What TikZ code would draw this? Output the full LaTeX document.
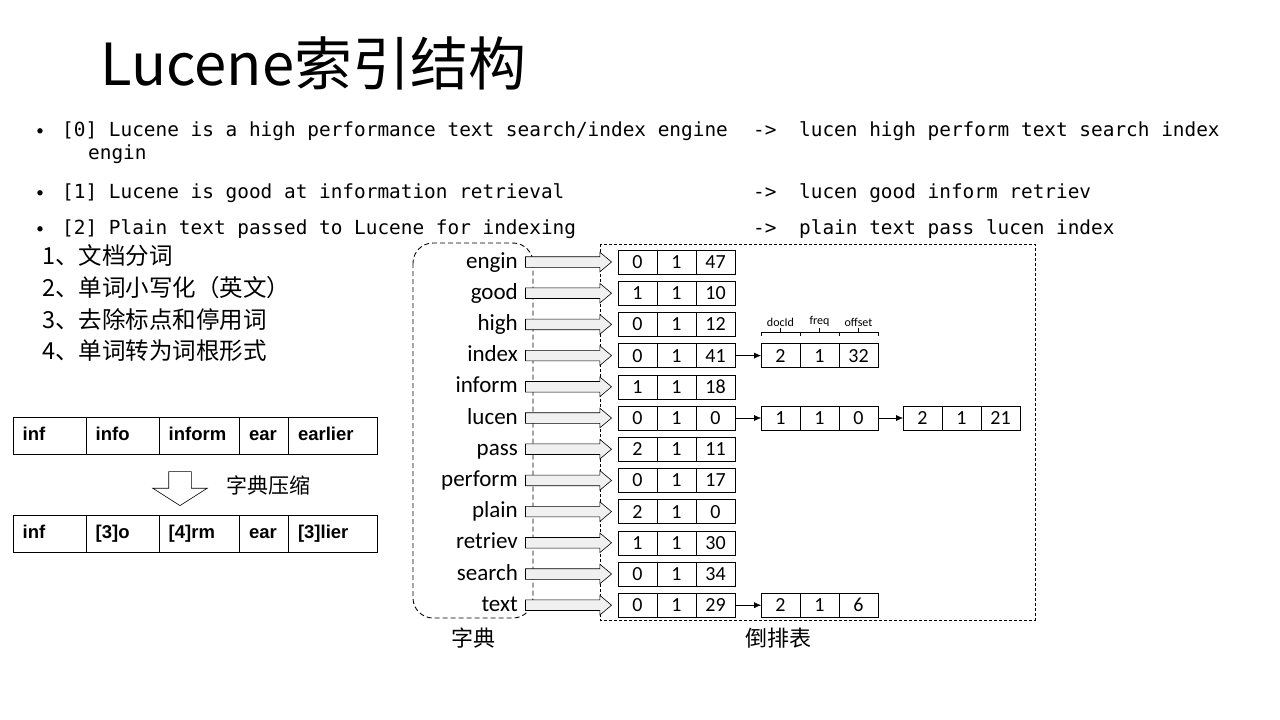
\documentclass[tikz,border=0pt]{standalone}
\usepackage{fontspec}
\usepackage{tikz}
\setmainfont{Carlito}
\newfontfamily\cjk{Noto Sans CJK SC}
\newfontfamily\mono{DejaVu Sans Mono}
\newfontfamily\arialb{Liberation Sans Bold}
\usetikzlibrary{positioning,calc,shapes.arrows,arrows.meta}
\newcommand\fs[1]{\fontsize{#1}{#1}\selectfont}

\begin{document}
\begin{tikzpicture}[x=1pt,y=-1pt,
  term/.style={anchor=base east,inner sep=0pt,font=\fs{23}},
  cell/.style={draw,outer sep=0pt,inner sep=0pt,minimum width=39pt,minimum height=24pt,font=\fs{20}},
  blockarr/.style={single arrow,draw,fill=gray!12,line width=0.6pt,inner sep=5pt,minimum height=86pt,
    single arrow head extend=4.5pt,single arrow tip angle=80,anchor=tip},
  link/.style={-{Latex[length=7pt,width=6pt]}},
  monoline/.style={anchor=base west,inner sep=0pt,font=\mono\fs{19.4}},
  steps/.style={anchor=base west,inner sep=0pt,font=\cjk\fs{23.5}},
  dcell/.style={draw,outer sep=0pt,inner xsep=10pt,inner ysep=0pt,minimum height=37.5pt,
    text height=13pt,text depth=3pt,align=left,font=\arialb\fs{18.5}},
  tag/.style={inner sep=0.5pt,font=\fs{12}}]
\useasboundingbox (0,0) rectangle (1280,720);

% title
\node[anchor=base west,inner sep=0pt,font=\cjk\fs{58}] (title) at (100,85) {Lucene索引结构};

% sample documents
\foreach \yy in {136,198,234}
  \node[anchor=base,inner sep=0pt,font=\fs{15}] at (40,\yy-1) {•};
\node[monoline] (doc0) at (62,136) {[0] Lucene is a high performance text search/index engine};
\node[monoline] (doc0b) at (88,159) {engin};
\node[monoline] (doc1) at (62,198) {[1] Lucene is good at information retrieval};
\node[monoline] (doc2) at (62,234) {[2] Plain text passed to Lucene for indexing};
\node[monoline] (to0) at (753,136) {->};
\node[monoline] (to1) at (753,198) {->};
\node[monoline] (to2) at (753,234) {->};
\node[monoline] (tok0) at (799,136) {lucen high perform text search index};
\node[monoline] (tok1) at (799,198) {lucen good inform retriev};
\node[monoline] (tok2) at (799,234) {plain text pass lucen index};

% steps
\node[steps] (s1) at (42,264) {1、文档分词};
\node[steps] (s2) at (42,296) {2、单词小写化（英文）};
\node[steps] (s3) at (42,328) {3、去除标点和停用词};
\node[steps] (s4) at (42,359) {4、单词转为词根形式};

% dictionary compression
\foreach \l/\w/\t [count=\k] in {12.7/73/inf, 85.7/73/info, 158.7/80.3/inform, 239/49/ear, 288/88.7/earlier}{
  \pgfmathsetmacro\tw{\w-20}
  \node[dcell,minimum width=\w pt,text width=\tw pt] (w\k) at ({\l+\w/2},435.5) {\t};
}
\foreach \l/\w/\t [count=\k] in {12.7/73/inf, 85.7/73/{[3]o}, 158.7/80.3/{[4]rm}, 239/49/ear, 288/88.7/{[3]lier}}{
  \pgfmathsetmacro\tw{\w-20}
  \node[dcell,minimum width=\w pt,text width=\tw pt] (z\k) at ({\l+\w/2},533.5) {\t};
}
\node[single arrow,draw,fill=white,line width=0.6pt,rotate=-90,inner sep=11pt,minimum height=34pt,
  single arrow head extend=16pt,single arrow tip angle=115] (shrink) at (180,485) {};
\node[font=\cjk\fs{21},inner sep=0pt] (shrinklbl) at (268,485) {字典压缩};

% dictionary and postings
\draw[dash pattern=on 5pt off 3pt,line width=0.9pt,rounded corners=20pt] (413,243) rectangle (533,618);
\draw[dash pattern=on 3pt off 2pt,line width=0.7pt] (600,244) rectangle (1035,620);

\foreach \w/\d/\f/\o [count=\i from 0] in {engin/0/1/47, good/1/1/10, high/0/1/12, index/0/1/41,
    inform/1/1/18, lucen/0/1/0, pass/2/1/11, perform/0/1/17, plain/2/1/0, retriev/1/1/30,
    search/0/1/34, text/0/1/29}{
  \pgfmathsetmacro\yy{262+31.2*\i}
  \node[term] (t\i) at (518,\yy+6) {\w};
  \node[cell] (pa\i) at (637.5,\yy) {\d};
  \node[cell,right=0pt of pa\i] (pb\i) {\f};
  \node[cell,right=0pt of pb\i] (pc\i) {\o};
  \node[blockarr] (ar\i) at ($(pa\i.west)+(-6,0)$) {};
}

\foreach \i/\d/\f/\o in {3/2/1/32, 5/1/1/0, 11/2/1/6}{
  \node[cell,right=26pt of pc\i] (qa\i) {\d};
  \node[cell,right=0pt of qa\i] (qb\i) {\f};
  \node[cell,right=0pt of qb\i] (qc\i) {\o};
  \draw[link] (pc\i) -- (qa\i);
}
\node[cell,right=25pt of qc5] (ra5) {2};
\node[cell,right=0pt of ra5] (rb5) {1};
\node[cell,right=0pt of rb5] (rc5) {21};
\draw[link] (qc5) -- (ra5);

% field names
\foreach \c/\l in {qa3/docId, qb3/freq, qc3/offset}{
  \draw[line width=0.5pt] ([yshift=8pt]\c.north west) -- ([yshift=11pt]\c.north west)
    -- ([yshift=11pt]\c.north east) -- ([yshift=8pt]\c.north east);
  \draw[line width=0.5pt] ([yshift=11pt]\c.north) -- ([yshift=16pt]\c.north) node[tag,above] {\l};
}

\node[font=\cjk\fs{22}] (dictlbl) at (473,638) {字典};
\node[font=\cjk\fs{22}] (postlbl) at (778,638) {倒排表};
\end{tikzpicture}
\end{document}
